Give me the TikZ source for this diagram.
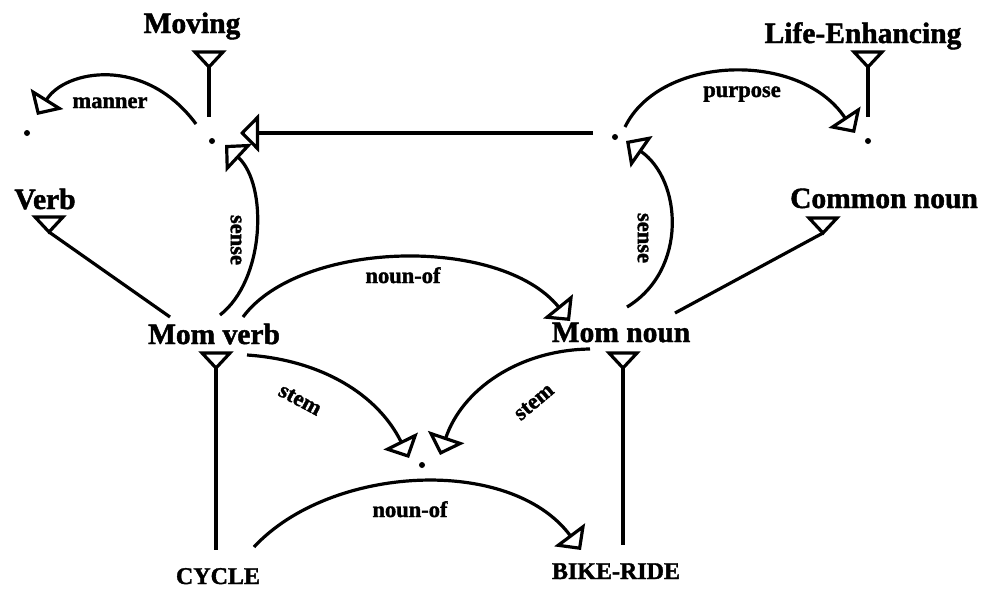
\documentclass[tikz,border=0pt]{standalone}
\usepackage{fontspec}
\setmainfont{Liberation Serif}[BoldFont={* Bold}, BoldFeatures={FakeBold=1.5}]
\usetikzlibrary{arrows.meta}
\begin{document}
\begin{tikzpicture}[x=1pt,y=-1pt,
  line width=3.2pt,
  concept/.style={font=\fontsize{29.5}{31}\selectfont\bfseries, inner sep=0pt, anchor=base},
  word/.style={font=\fontsize{24}{26}\selectfont\bfseries, inner sep=0pt, anchor=base},
  rellabel/.style={font=\fontsize{22.5}{24}\selectfont\bfseries, inner sep=0pt},
  dot/.style={circle, fill=black, inner sep=0pt, minimum size=6pt},
  rel/.style={-{Triangle[open,length=19pt 0,width=38pt 0]}, line join=miter},
  isa/.style={line join=miter},
  isatri/.pic={\draw[isa] (-14,-15) -- (14,-15) -- (0,0) -- cycle;}]

\useasboundingbox (0,0) rectangle (984,589);
\fill[white] (0,0) rectangle (984,589);

% concept labels
\node[concept] (moving) at (192,33) {Moving};
\node[concept] (life)   at (863,43) {Life-Enhancing};
\node[concept] (verb)   at (45,209) {Verb};
\node[concept] (cnoun)  at (884,208) {Common noun};
\node[concept] (mverb)  at (214,344) {Mom verb};
\node[concept] (mnoun)  at (621,342) {Mom noun};
\node[word] (cycle) at (218,584) {CYCLE};
\node[word] (bike)  at (616,579) {BIKE-RIDE};

% anonymous instance points
\node[dot] (d1) at (27,133) {};
\node[dot] (d2) at (212,141) {};
\node[dot] (d3) at (615,137) {};
\node[dot] (d4) at (868,141) {};
\node[dot] (d5) at (422,465) {};

% apexes of the isa triangles
\coordinate (tMoving) at (209,67);
\coordinate (tLife)   at (868,67);
\coordinate (tVerb)   at (49,232);
\coordinate (tCnoun)  at (823,233);
\coordinate (tMverb)  at (216,368);
\coordinate (tMnoun)  at (623,368);
\foreach \t in {tMoving,tLife,tVerb,tCnoun,tMverb,tMnoun}
  \pic at (\t) {isatri};

% isa lines
\coordinate (d2top) at (209,117);
\coordinate (d4top) at (868,117);
\coordinate (mvUL)  at (170,317);
\coordinate (mnUR)  at (675,313);
\coordinate (cyTop) at (216,550);
\coordinate (bkTop) at (623,545);
\draw[isa] (tMoving) -- (d2top);
\draw[isa] (tLife) -- (d4top);
\draw[isa] (tVerb) -- (mvUL);
\draw[isa] (tCnoun) -- (mnUR);
\draw[isa] (tMverb) -- (cyTop);
\draw[isa] (tMnoun) -- (bkTop);

% relation arcs
\coordinate (mannerS) at (196,124);  \coordinate (mannerE) at (37,115);
\coordinate (purpS)   at (625,127);  \coordinate (purpE)   at (855,133);
\coordinate (senseLS) at (220,315);  \coordinate (senseLE) at (225,145);
\coordinate (senseRS) at (627,307);  \coordinate (senseRE) at (626,141);
\coordinate (nounS)   at (243,317);  \coordinate (nounE)   at (570,321);
\coordinate (stemLS)  at (247,355);  \coordinate (stemLE)  at (409,458);
\coordinate (stemRS)  at (590,349);  \coordinate (stemRE)  at (440,455);
\coordinate (noun2S)  at (254,547);  \coordinate (noun2E)  at (581,550);
\coordinate (horS)    at (593,133);  \coordinate (horE)    at (240,133);

\draw[rel] (mannerS) .. controls (145,55) and (65,70) .. (mannerE);
\draw[rel] (purpS) .. controls (660,55) and (800,50) .. (purpE);
\draw[rel] (senseLS) .. controls (265,280) and (268,185) .. (senseLE);
\draw[rel] (senseRS) .. controls (688,270) and (682,180) .. (senseRE);
\draw[rel] (nounS) .. controls (300,240) and (500,235) .. (nounE);
\draw[rel] (stemLS) .. controls (322,360) and (378,395) .. (stemLE);
\draw[rel] (stemRS) .. controls (518,350) and (462,390) .. (stemRE);
\draw[rel] (noun2S) .. controls (330,465) and (510,455) .. (noun2E);
\draw[rel] (horS) -- (horE);

% relation labels
\node[rellabel, anchor=base] at (110,108) {manner};
\node[rellabel, anchor=base] at (742,97) {purpose};
\node[rellabel, anchor=base] at (403,283) {noun-of};
\node[rellabel, anchor=base] at (410,517) {noun-of};
\node[rellabel, rotate=-90] at (236,240) {sense};
\node[rellabel, rotate=-90] at (643,238) {sense};
\node[rellabel, rotate=-28] at (300,400) {stem};
\node[rellabel, rotate=40] at (534,402) {stem};
\end{tikzpicture}
\end{document}
